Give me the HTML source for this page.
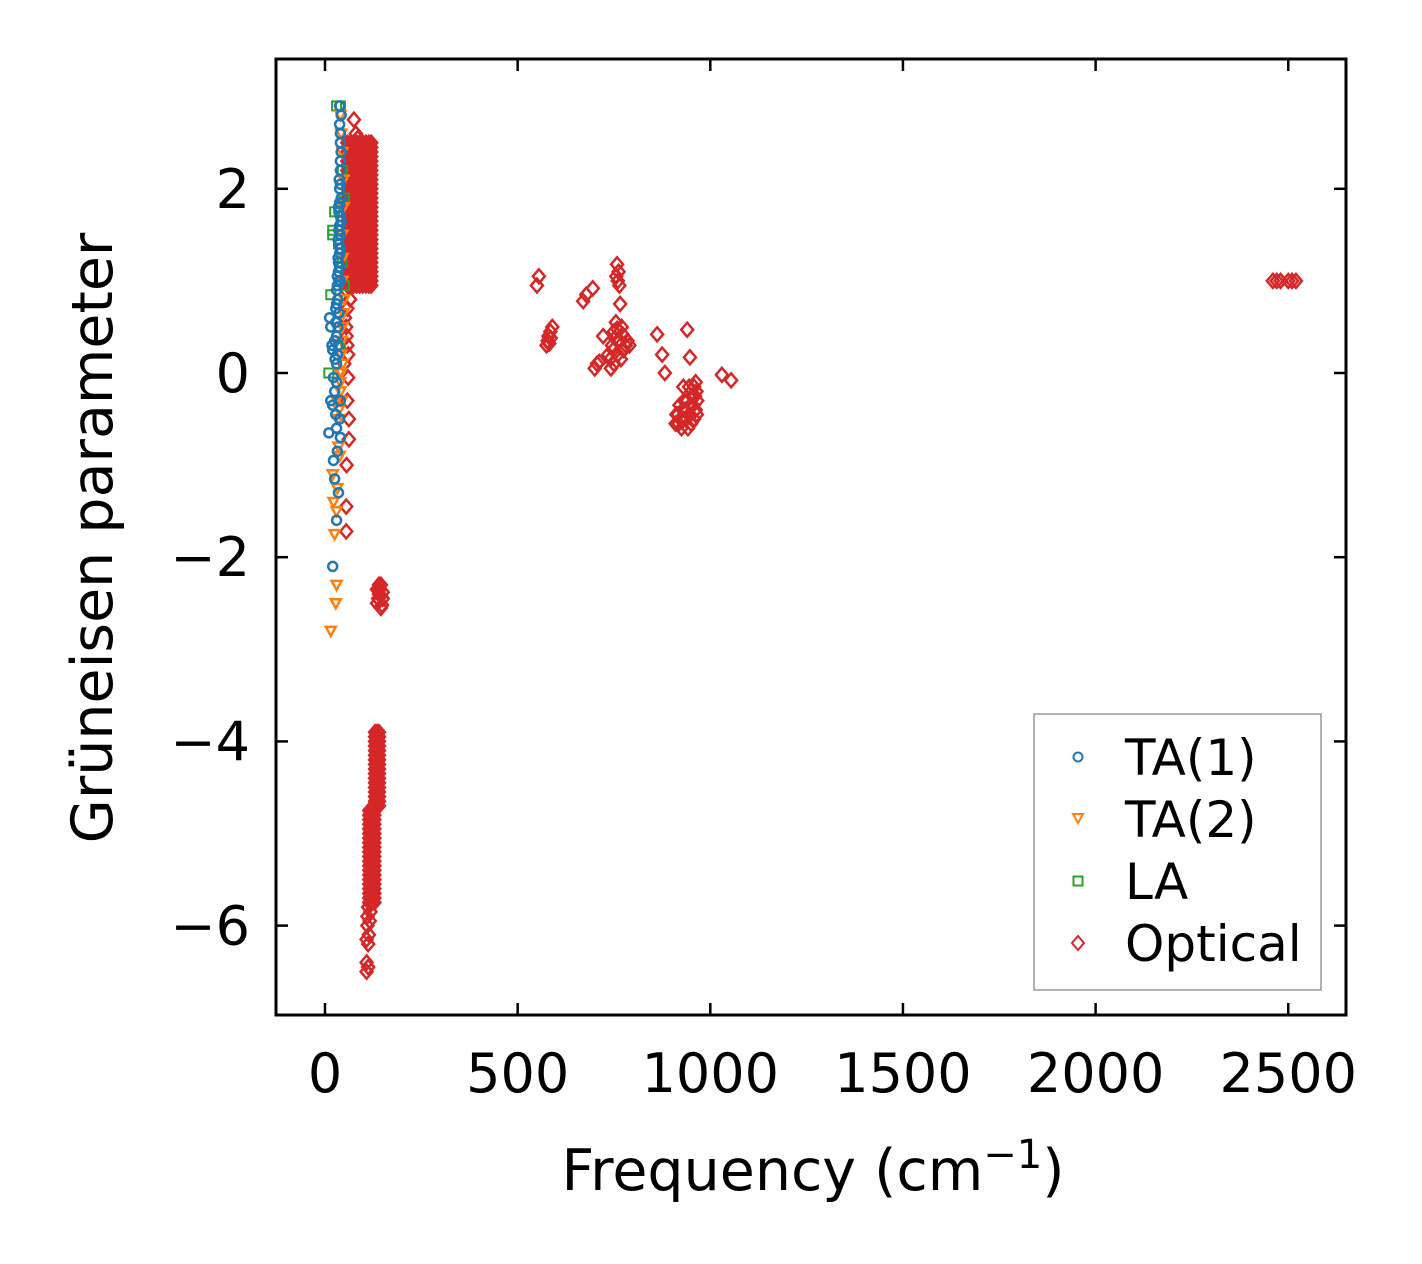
<!DOCTYPE html>
<html><head><meta charset="utf-8"><style>
html,body{margin:0;padding:0;background:#fff;}
svg{display:block;font-family:"DejaVu Sans","Liberation Sans",sans-serif;}
</style></head><body>
<svg id="chart" width="1422" height="1264" viewBox="0 0 1422 1264" xmlns="http://www.w3.org/2000/svg">
<rect width="1422" height="1264" fill="#fff"/>
<g id="marks"></g>
<rect x="276" y="59" width="1070" height="956" fill="none" stroke="#000" stroke-width="3"/>
<g id="axes"></g>
<text x="813" y="1190" font-size="57" text-anchor="middle">Frequency (cm<tspan dy="-22" font-size="40">−1</tspan><tspan dy="22">)</tspan></text>
<text transform="translate(112,538) rotate(-90)" font-size="57" text-anchor="middle">Grüneisen parameter</text>
<g>
<rect x="1034" y="714" width="287" height="276" fill="#fff" stroke="#999" stroke-width="1.5"/>
<circle cx="1078" cy="757" r="4.5" fill="none" stroke="#1f77b4" stroke-width="2"/>
<text x="1125" y="775" font-size="50">TA(1)</text>
<path d="M1073,814 L1083,814 L1078,823 Z" fill="none" stroke="#ff7f0e" stroke-width="2"/>
<text x="1125" y="837" font-size="50">TA(2)</text>
<rect x="1073.5" y="876.5" width="9" height="9" fill="none" stroke="#2ca02c" stroke-width="2"/>
<text x="1125" y="899" font-size="50">LA</text>
<path d="M1078,936 L1084,943 L1078,950 L1072,943 Z" fill="none" stroke="#d62728" stroke-width="2"/>
<text x="1125" y="961" font-size="50">Optical</text>
</g>
</svg>
<script>
const xTicks=[0,500,1000,1500,2000,2500];
const yTicks=[-6,-4,-2,0,2];
const ta1=[[20,-2.1],[30,-1.6],[25,-1.15],[22,-0.95],[10,-0.65],[35,-1.3],[15,-0.3],[20,-0.35],[25,-0.2],[30,-0.6],[40,-0.7],[12,0.6],[15,0.5],[18,0.3],[20,0.25],[25,0.35],[28,0.7],[30,0.9],[35,1.1],[38,1.3],[40,1.5],[40,1.7],[42,1.9],[38,2.0],[40,2.2],[42,2.4],[40,2.6],[42,2.8],[38,2.9],[35,1.2],[36,1.4],[38,1.6],[40,1.0],[33,0.8],[30,0.1],[28,-0.45],[35,1.8],[37,2.1],[40,2.3],[40,2.5],[38,2.7],[36,1.0],[34,0.5],[32,0.2],[30,-0.1],[38,1.15],[36,1.55],[38,1.85],[40,2.05],[36,0.65],[34,1.25],[32,1.05],[30,0.75],[40,1.35],[42,1.65],[34,1.45],[36,1.75],[32,0.95],[28,0.55],[26,0.15],[22,-0.05],[30,0.4],[34,0.3],[40,-0.3],[38,-0.5],[32,-0.85]];
const ta2=[[15,-2.8],[30,-2.3],[28,-2.5],[25,-1.75],[22,-1.4],[30,-1.5],[20,-1.1],[35,-0.8],[35,-0.5],[40,-0.2],[38,0],[42,0.2],[45,0.5],[40,-0.1],[30,-0.3],[45,1.0],[48,1.8],[45,2.4],[50,0.8],[38,-0.9],[32,-1.25],[40,2.8],[42,2.6],[45,1.5],[42,0.0],[36,-0.4],[44,-0.3],[46,0.1],[44,0.35],[48,0.65],[46,1.25],[48,2.1]];
const la=[[10,0],[15,0.85],[20,1.55],[25,1.75],[30,2.9],[40,2.9],[45,2.2],[50,1.9],[35,1.4],[45,1.2],[40,0.3],[50,0.95],[20,1.5]];
const optFreqCol=[58,66,74,82,90,98,106,114,120];
const optGammaCol=[0.95,1.0,1.05,1.1,1.15,1.2,1.25,1.3,1.35,1.4,1.45,1.5,1.55,1.6,1.65,1.7,1.75,1.8,1.85,1.9,1.95,2.0,2.05,2.1,2.15,2.2,2.25,2.3,2.35,2.4,2.45,2.5];
const optLow=[[55,0.9],[58,0.7],[55,0.5],[58,0.3],[60,-0.05],[62,-0.72],[55,-1.45],[55,-1.72],[65,0.8],[80,2.6],[75,2.75],[85,2.55],[50,0.1],[52,0.6],[56,0.4],[60,0.2],[58,-0.3],[62,-0.5],[56,-1.0]];
const optNegFreqA=[130,135,140];
const optNegGammaA=[-3.9,-3.95,-4.0,-4.05,-4.1,-4.15,-4.2,-4.25,-4.3,-4.35,-4.4,-4.45,-4.5,-4.55,-4.6,-4.65,-4.7];
const optNegFreqB=[115,122,128];
const optNegGammaB=[-4.75,-4.8,-4.85,-4.9,-4.95,-5.0,-5.05,-5.1,-5.15,-5.2,-5.25,-5.3,-5.35,-5.4,-5.45,-5.5,-5.55,-5.6,-5.65,-5.7,-5.75];
const optNegTail=[[112,-5.8],[118,-5.85],[110,-5.9],[116,-5.95],[110,-6.0],[114,-6.1],[108,-6.15],[112,-6.2],[108,-6.4],[112,-6.45],[108,-6.5]];
const optMid=[[135,-2.35],[145,-2.3],[140,-2.4],[150,-2.45],[135,-2.5],[145,-2.55],[140,-2.3],[150,-2.38],[138,-2.45],[148,-2.52],[142,-2.35],[145,-2.42]];
const optHigh=[[550,0.95],[555,1.05],[575,0.3],[580,0.4],[585,0.45],[590,0.5],[578,0.35],[582,0.32],[586,0.38],[670,0.78],[678,0.85],[695,0.92],[700,0.05],[706,0.1],[712,0.12],[722,0.4],[740,0.15],[745,0.3],[750,0.45],[755,0.55],[760,0.2],[765,0.35],[770,0.5],[775,0.25],[785,0.35],[790,0.3],[760,1.0],[762,1.1],[758,1.18],[756,1.05],[764,0.95],[766,0.75],[750,0.1],[735,0.2],[748,0.25],[752,0.38],[758,0.48],[768,0.15],[772,0.42],[780,0.3],[742,0.05],[862,0.42],[875,0.2],[882,0.0],[910,-0.55],[916,-0.45],[920,-0.35],[925,-0.6],[930,-0.5],[935,-0.4],[940,-0.3],[945,-0.45],[950,-0.55],[955,-0.35],[960,-0.25],[965,-0.45],[962,-0.1],[945,-0.15],[930,-0.15],[912,-0.45],[918,-0.55],[922,-0.5],[928,-0.4],[932,-0.3],[938,-0.5],[942,-0.6],[948,-0.35],[952,-0.25],[958,-0.5],[962,-0.4],[966,-0.3],[958,-0.15],[964,-0.2],[940,0.47],[947,0.17],[1030,-0.02],[1054,-0.08],[2460,1.0],[2470,1.0],[2480,1.0],[2500,1.0],[2510,1.0],[2520,1.0]];
const sx=v=>325+v*0.3853;
const sy=v=>373-v*92.1;
const NS='http://www.w3.org/2000/svg';
const marks=document.getElementById('marks');
const axes=document.getElementById('axes');
function mk(tag,attrs,parent){const e=document.createElementNS(NS,tag);for(const k in attrs)e.setAttribute(k,attrs[k]);parent.appendChild(e);return e;}
function diamond(f,g){const x=sx(f),y=sy(g);
const e=mk('path',{d:`M${x},${y-7} L${x+6},${y} L${x},${y+7} L${x-6},${y} Z`,fill:'none',stroke:'#d62728','stroke-width':2.5},marks);

}
optLow.forEach(p=>diamond(p[0],p[1]));
optFreqCol.forEach(f=>optGammaCol.forEach(g=>diamond(f,g)));
optNegFreqA.forEach(f=>optNegGammaA.forEach(g=>diamond(f,g)));
optNegFreqB.forEach(f=>optNegGammaB.forEach(g=>diamond(f,g)));
optNegTail.forEach(p=>diamond(p[0],p[1]));
optMid.forEach(p=>diamond(p[0],p[1]));
optHigh.forEach(p=>diamond(p[0],p[1]));
la.forEach(p=>{const x=sx(p[0]),y=sy(p[1]);
const e=mk('rect',{x:x-4.5,y:y-4.5,width:9,height:9,fill:'none',stroke:'#2ca02c','stroke-width':2},marks);

});
ta2.forEach(p=>{const x=sx(p[0]),y=sy(p[1]);
const e=mk('path',{d:`M${x-5},${y-4} L${x+5},${y-4} L${x},${y+5} Z`,fill:'none',stroke:'#ff7f0e','stroke-width':2.5},marks);

});
ta1.forEach(p=>{const x=sx(p[0]),y=sy(p[1]);
const e=mk('circle',{cx:x,cy:y,r:4.5,fill:'none',stroke:'#1f77b4','stroke-width':2.5},marks);

});
xTicks.forEach(t=>{const x=sx(t);
mk('line',{x1:x,x2:x,y1:1015,y2:1003,stroke:'#000','stroke-width':2.5},axes);
mk('line',{x1:x,x2:x,y1:59,y2:71,stroke:'#000','stroke-width':2.5},axes);
const e=mk('text',{x:x,y:1092,'font-size':54,'text-anchor':'middle'},axes);
e.textContent=String(t);

});
yTicks.forEach(t=>{const y=sy(t);
mk('line',{x1:276,x2:288,y1:y,y2:y,stroke:'#000','stroke-width':2.5},axes);
mk('line',{x1:1346,x2:1334,y1:y,y2:y,stroke:'#000','stroke-width':2.5},axes);
const e=mk('text',{x:250,y:y+19,'font-size':54,'text-anchor':'end'},axes);
e.textContent=t<0?'−'+Math.abs(t):String(t);

});
</script>
</body></html>
